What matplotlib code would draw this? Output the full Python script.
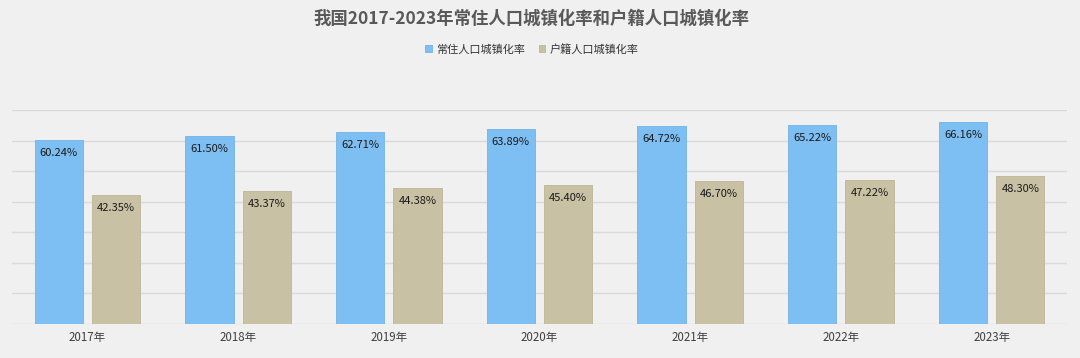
import matplotlib
matplotlib.use("Agg")
import matplotlib.pyplot as plt
import numpy as np

plt.rcParams['font.family'] = ['Noto Sans CJK SC', 'DejaVu Sans']

# data
years = ['2017年', '2018年', '2019年', '2020年', '2021年', '2022年', '2023年']
resident = [60.24, 61.50, 62.71, 63.89, 64.72, 65.22, 66.16]
registered = [42.35, 43.37, 44.38, 45.40, 46.70, 47.22, 48.30]
series_names = ['常住人口城镇化率', '户籍人口城镇化率']
title = '我国2017-2023年常住人口城镇化率和户籍人口城镇化率'

blue = '#7DBFF2'
beige = '#C9C1A4'
bg = '#F0F0F0'

fig = plt.figure(figsize=(10.8, 3.58), dpi=100, facecolor=bg)
ax = fig.add_axes([12/1080, 34/358, 1055/1080, 214/358])
ax.set_facecolor(bg)

x = np.arange(len(years))
w = 0.32
off = 0.19
b1 = ax.bar(x - off, resident, w, color=blue, edgecolor='#74B3E3', linewidth=0.6,
            label=series_names[0], zorder=3)
b2 = ax.bar(x + off, registered, w, color=beige, edgecolor='#BDB597', linewidth=0.6,
            label=series_names[1], zorder=3)

# value labels just inside the top of each bar
for bars, vals in ((b1, resident), (b2, registered)):
    for r, v in zip(bars, vals):
        ax.annotate('%.2f%%' % v, (r.get_x() + r.get_width()/2, v),
                    xytext=(0, -13), textcoords='offset pixels',
                    ha='center', va='center', fontsize=8, color='#1a1a1a', zorder=4)

ax.set_xlim(-0.5, len(years) - 0.5)
ax.set_ylim(0, 70)
ax.set_yticks(np.arange(0, 71, 10))
ax.yaxis.grid(True, color='#D9D9D9', linewidth=1, zorder=0)
ax.tick_params(axis='y', left=False, labelleft=False)
ax.set_xticks(x)
ax.set_xticklabels(years, fontsize=8.3, color='#404040')
ax.tick_params(axis='x', length=0, pad=5)
for s in ax.spines.values():
    s.set_visible(False)

fig.text(531/1080, 1 - 19/358, title, ha='center', va='center', fontsize=12.5,
         fontweight='bold', color='#595959')
fig.legend(loc='center', bbox_to_anchor=(532/1080, 1 - 49/358), ncol=2, frameon=False,
           fontsize=8, handlelength=0.6, handleheight=0.6, handletextpad=0.4,
           columnspacing=1.2, labelcolor='#333333')

fig.savefig('out.png', dpi=100, facecolor=bg)
